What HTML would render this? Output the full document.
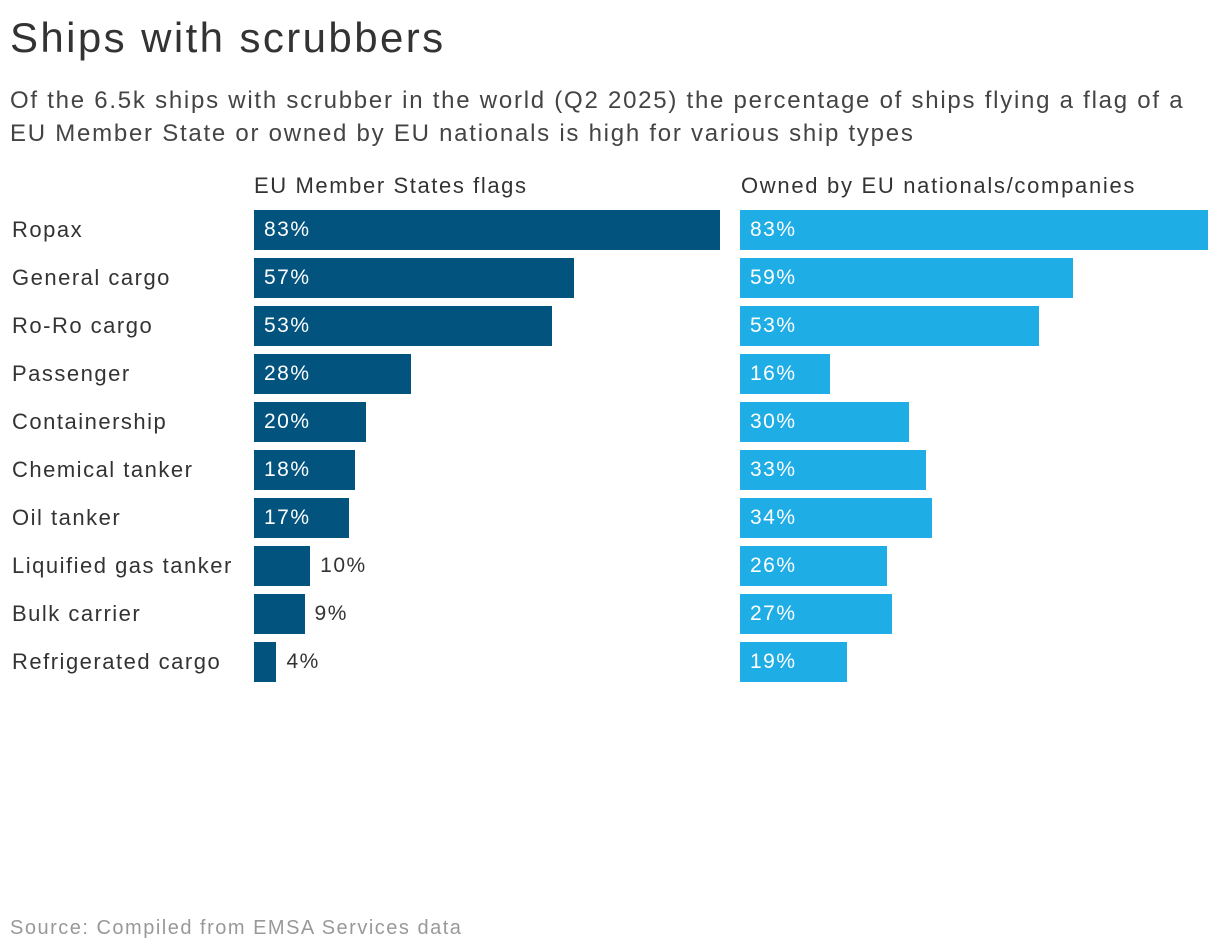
<!DOCTYPE html>
<html><head><meta charset="utf-8">
<style>
body{margin:0;width:1220px;height:952px;background:#fff;font-family:"Liberation Sans",sans-serif;color:#333;position:relative;overflow:hidden}
.t{position:absolute;white-space:nowrap}
</style></head><body>
<div class="t" style="left:10px;top:14px;font-size:42px;letter-spacing:2.4px;color:#333">Ships with scrubbers</div>
<div class="t" style="left:10px;top:84px;font-size:24px;line-height:33px;letter-spacing:1.75px;color:#444">Of the 6.5k ships with scrubber in the world (Q2 2025) the percentage of ships flying a flag of a<br>EU Member State or owned by EU nationals is high for various ship types</div>
<div class="t" style="left:254px;top:173px;font-size:22px;letter-spacing:1.6px">EU Member States flags</div>
<div class="t" style="left:741px;top:173px;font-size:22px;letter-spacing:1.7px">Owned by EU nationals/companies</div>
<div id="chart"></div>
<div class="t" style="left:10px;top:917px;font-size:20px;letter-spacing:1.5px;color:#999">Source: Compiled from EMSA Services data</div>
<script>
const categories=["Ropax","General cargo","Ro-Ro cargo","Passenger","Containership","Chemical tanker","Oil tanker","Liquified gas tanker","Bulk carrier","Refrigerated cargo"];
const flagValues=[83,57,53,28,20,18,17,10,9,4];
const ownedValues=[83,59,53,16,30,33,34,26,27,19];
const chart=document.getElementById('chart');
const rowY=i=>210+i*48;
const xFlag=v=>v*466/83;
const xOwned=v=>v*468/83;
function bar(x0,w,y,color,v,name){
  const b=document.createElement('div');
  
  
  b.style.cssText=`position:absolute;left:${x0}px;top:${y}px;width:${w}px;height:40px;background:${color}`;
  chart.appendChild(b);
  const l=document.createElement('div');
  
  
  l.className='t';
  const inside=w>70;
  l.style.cssText=`left:${inside?x0+10:x0+w+10}px;top:${y+8}px;font-size:21px;letter-spacing:1.5px;color:${inside?'#fff':'#333'}`;
  l.textContent=v+'%';
  chart.appendChild(l);
}
categories.forEach((c,i)=>{
  const y=rowY(i);
  const t=document.createElement('div');
  
  
  t.className='t';
  t.style.cssText=`left:12px;top:${y+7}px;font-size:22px;letter-spacing:1.5px;color:#333`;
  t.textContent=c;
  chart.appendChild(t);
  bar(254,xFlag(flagValues[i]),y,'#03537f',flagValues[i],'flag-bar');
  bar(740,xOwned(ownedValues[i]),y,'#1fade6',ownedValues[i],'owned-bar');
});
</script>
</body></html>
